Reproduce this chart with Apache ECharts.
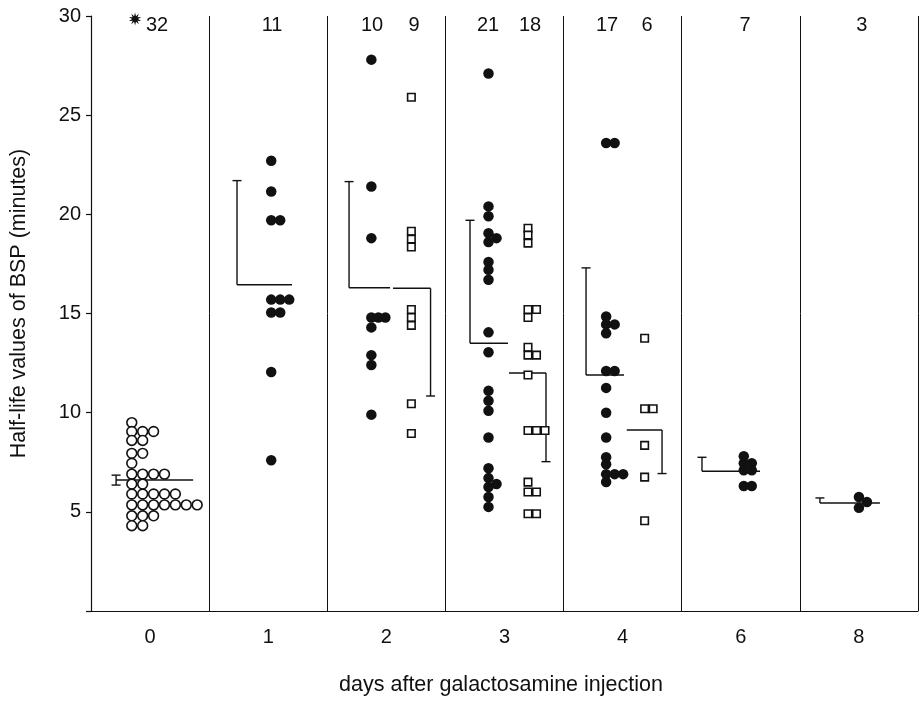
<!DOCTYPE html>
<html>
<head>
<meta charset="utf-8">
<script src="https://cdn.jsdelivr.net/npm/echarts@6/dist/echarts.min.js"></script>
<style>
  html, body { margin: 0; padding: 0; background: #ffffff; }
  #chart { width: 920px; height: 701px; }
</style>
</head>
<body>
<div id="chart"></div>
<script>
// Days after galactosamine injection (category axis)
const days = ['0', '1', '2', '3', '4', '6', '8'];

// Half-life values of BSP (minutes) for each animal
const day0Circles = [9.5, 9.05, 9.05, 9.05, 8.6, 8.6, 7.95, 7.95, 7.45,
  6.9, 6.9, 6.9, 6.9, 6.4, 6.4, 5.9, 5.9, 5.9, 5.9, 5.9,
  5.35, 5.35, 5.35, 5.35, 5.35, 5.35, 5.35, 4.8, 4.8, 4.8, 4.3, 4.3];
const day1Dots = [22.7, 21.15, 19.7, 19.7, 15.7, 15.7, 15.7, 15.05, 15.05, 12.05, 7.6];
const day2Dots = [27.8, 21.4, 18.8, 14.8, 14.8, 14.8, 14.3, 12.9, 12.4, 9.9];
const day2Squares = [25.9, 19.15, 18.75, 18.35, 15.2, 14.8, 14.4, 10.45, 8.95];
const day3Dots = [27.1, 20.4, 19.9, 19.05, 18.8, 18.6, 17.6, 17.2, 16.7, 14.05, 13.05,
  11.1, 10.6, 10.1, 8.75, 7.2, 6.7, 6.4, 6.25, 5.75, 5.25];
const day3Squares = [19.3, 18.95, 18.55, 15.2, 15.2, 14.8, 13.3, 12.9, 12.9, 11.9,
  9.1, 9.1, 9.1, 6.5, 6.0, 6.0, 4.9, 4.9];
const day4Dots = [23.6, 23.6, 14.85, 14.45, 14.45, 14.0, 12.1, 12.1, 11.25, 10.0, 8.75,
  7.75, 7.4, 6.9, 6.9, 6.9, 6.5];
const day4Squares = [13.75, 10.2, 10.2, 8.35, 6.75, 4.55];
const day6Dots = [7.8, 7.45, 7.45, 7.1, 7.1, 6.3, 6.3];
const day8Dots = [5.75, 5.5, 5.2];

// Group means and standard deviations (minutes)
const meanDots = [6.6, 16.45, 16.3, 13.5, 11.9, 7.05, 5.45];
const sdDots = [0.25, 5.25, 5.35, 6.2, 5.4, 0.7, 0.25];
const meanSquares = [16.27, 12.0, 9.12];   // days 2, 3, 4
const sdSquares = [5.43, 4.47, 2.19];

// Y axis ticks
const yTicks = { min: 0, max: 30, step: 5 };

// ---- drawing layout (pixel offsets from each band centre) ----
const INK = '#111111';
const FONT = '"Liberation Sans", Arial, sans-serif';

const groups = [
  { cat: 0, values: day0Circles, shape: 'open', base: -18.3, step: 10.9, labelDx: 7 },
  { cat: 1, values: day1Dots, shape: 'dot', base: 3, step: 9, labelDx: 3.8 },
  { cat: 2, values: day2Dots, shape: 'dot', base: -15, step: 7, labelDx: -14.3 },
  { cat: 2, values: day2Squares, shape: 'square', base: 25, step: 8.5, labelDx: 27.7 },
  { cat: 3, values: day3Dots, shape: 'dot', base: -16, step: 8, labelDx: -16.5 },
  { cat: 3, values: day3Squares, shape: 'square', base: 23.5, step: 8.5, labelDx: 25.5 },
  { cat: 4, values: day4Dots, shape: 'dot', base: -16.5, step: 8.5, labelDx: -15.6 },
  { cat: 4, values: day4Squares, shape: 'square', base: 22, step: 8.5, labelDx: 24.4 },
  { cat: 5, values: day6Dots, shape: 'dot', base: 3, step: 8, labelDx: 4.2 },
  { cat: 6, values: day8Dots, shape: 'dot', base: 0, step: 8, labelDx: 3 }
];

// mean line span and SD bar position for each group
const brackets = [
  { cat: 0, mean: meanDots[0], sd: sdDots[0], dir: 0, bar: -34, from: -34, to: 43 },
  { cat: 1, mean: meanDots[1], sd: sdDots[1], dir: 1, bar: -31.2, from: -31.2, to: 23.8 },
  { cat: 2, mean: meanDots[2], sd: sdDots[2], dir: 1, bar: -37.3, from: -37.3, to: 3.7 },
  { cat: 2, mean: meanSquares[0], sd: sdSquares[0], dir: -1, bar: 44.2, from: 6.7, to: 44.2 },
  { cat: 3, mean: meanDots[3], sd: sdDots[3], dir: 1, bar: -34.5, from: -34.5, to: 3.5 },
  { cat: 3, mean: meanSquares[1], sd: sdSquares[1], dir: -1, bar: 41.5, from: 4.5, to: 41.5 },
  { cat: 4, mean: meanDots[4], sd: sdDots[4], dir: 1, bar: -36.6, from: -36.6, to: 1.4 },
  { cat: 4, mean: meanSquares[2], sd: sdSquares[2], dir: -1, bar: 39.4, from: 4.1, to: 39.4 },
  { cat: 5, mean: meanDots[5], sd: sdDots[5], dir: 1, bar: -38.8, from: -38.8, to: 19.2 },
  { cat: 6, mean: meanDots[6], sd: sdDots[6], dir: 1, bar: -39, from: -39, to: 21 }
];

// Spread coincident values sideways: each value goes into the first
// column where it does not collide with values already placed there.
function swarm(values, minGap) {
  const cols = [];
  return values.slice().sort((a, b) => b - a).map(v => {
    let k = 0;
    while (cols[k] && cols[k].some(u => Math.abs(u - v) < minGap)) k++;
    (cols[k] = cols[k] || []).push(v);
    return { v, k };
  });
}

function pointsFor(shape) {
  const out = [];
  groups.filter(g => g.shape === shape).forEach(g => {
    swarm(g.values, 0.3).forEach(p => {
      out.push({ value: [g.cat, p.v], symbolOffset: [g.base + p.k * g.step, 0] });
    });
  });
  return out;
}

function starPoints(cx, cy, rOut, rIn, n) {
  const pts = [];
  for (let i = 0; i < n * 2; i++) {
    const r = i % 2 === 0 ? rOut : rIn;
    const a = Math.PI * i / n - Math.PI / 2;
    pts.push([cx + r * Math.cos(a), cy + r * Math.sin(a)]);
  }
  return pts;
}

const chart = echarts.init(document.getElementById('chart'), null, { renderer: 'canvas' });

chart.setOption({
  animation: false,
  backgroundColor: '#ffffff',
  grid: { left: 91, right: 2, top: 16, bottom: 90, containLabel: false },
  xAxis: {
    type: 'category',
    data: days,
    boundaryGap: true,
    axisLine: { show: true, lineStyle: { color: INK, width: 1.2 } },
    axisTick: { show: false },
    axisLabel: { color: INK, fontSize: 20, fontFamily: FONT, margin: 16 },
    splitLine: { show: true, lineStyle: { color: INK, width: 1 } },
    name: 'days after galactosamine injection',
    nameLocation: 'middle',
    nameGap: 63,
    nameTextStyle: { color: INK, fontSize: 21.5, fontFamily: FONT, padding: [0, 7, 0, 0] }
  },
  yAxis: {
    type: 'value',
    min: yTicks.min,
    max: yTicks.max,
    interval: yTicks.step,
    axisLine: { show: true, lineStyle: { color: INK, width: 1.2 } },
    axisTick: { show: true, length: 5, lineStyle: { color: INK, width: 1.2 } },
    axisLabel: {
      color: INK, fontSize: 20, fontFamily: FONT, margin: 10,
      formatter: v => (v === 0 ? '' : String(v))
    },
    splitLine: { show: false },
    name: 'Half-life values of BSP (minutes)',
    nameLocation: 'middle',
    nameGap: 61,
    nameTextStyle: { color: INK, fontSize: 21.5, fontFamily: FONT, padding: [0, 0, 0, 20] }
  },
  series: [
    {
      name: 'controls',
      type: 'scatter',
      symbol: 'circle',
      symbolSize: 9.8,
      itemStyle: { color: '#ffffff', borderColor: INK, borderWidth: 1.6, opacity: 1 },
      data: pointsFor('open'),
      z: 3
    },
    {
      name: 'dots',
      type: 'scatter',
      symbol: 'circle',
      symbolSize: 10.5,
      itemStyle: { color: INK, opacity: 1 },
      data: pointsFor('dot'),
      z: 3
    },
    {
      name: 'squares',
      type: 'scatter',
      symbol: 'rect',
      symbolSize: 7.5,
      itemStyle: { color: '#ffffff', borderColor: INK, borderWidth: 1.6, opacity: 1 },
      data: pointsFor('square'),
      z: 3
    },
    {
      name: 'mean and SD',
      type: 'custom',
      z: 2,
      data: brackets.map(b => [b.cat, b.mean, b.sd]),
      renderItem: (params, api) => {
        const b = brackets[params.dataIndex];
        const c = api.coord([api.value(0), api.value(1)]);
        const cx = c[0], ym = c[1];
        const mean = api.value(1), sd = api.value(2);
        const style = { stroke: INK, lineWidth: 1.4 };
        const bx = cx + b.bar;
        const kids = [
          { type: 'line', shape: { x1: cx + b.from, y1: ym, x2: cx + b.to, y2: ym }, style: { stroke: INK, lineWidth: 1.5 } }
        ];
        const ends = b.dir === 0 ? [mean + sd, mean - sd] : [mean + b.dir * sd];
        ends.forEach(e => {
          const ye = api.coord([api.value(0), e])[1];
          kids.push({ type: 'line', shape: { x1: bx, y1: ym, x2: bx, y2: ye }, style });
          kids.push({ type: 'line', shape: { x1: bx - 4.5, y1: ye, x2: bx + 4.5, y2: ye }, style });
        });
        return { type: 'group', children: kids };
      }
    },
    {
      name: 'group sizes',
      type: 'custom',
      z: 4,
      data: groups.map(g => [g.cat, g.values.length]),
      renderItem: (params, api) => {
        const g = groups[params.dataIndex];
        const top = api.coord([api.value(0), yTicks.max]);
        const cx = top[0];
        const kids = [{
          type: 'text',
          x: cx + g.labelDx, y: top[1] + 9,
          style: {
            text: String(api.value(1)), fill: INK,
            font: '20px ' + FONT, align: 'center', verticalAlign: 'middle'
          }
        }];
        if (g.cat === 0) {
          kids.push({
            type: 'polygon',
            shape: { points: starPoints(cx - 15, top[1] + 3, 6.5, 3, 10) },
            style: { fill: INK }
          });
        }
        return { type: 'group', children: kids };
      }
    }
  ]
});
</script>
</body>
</html>
